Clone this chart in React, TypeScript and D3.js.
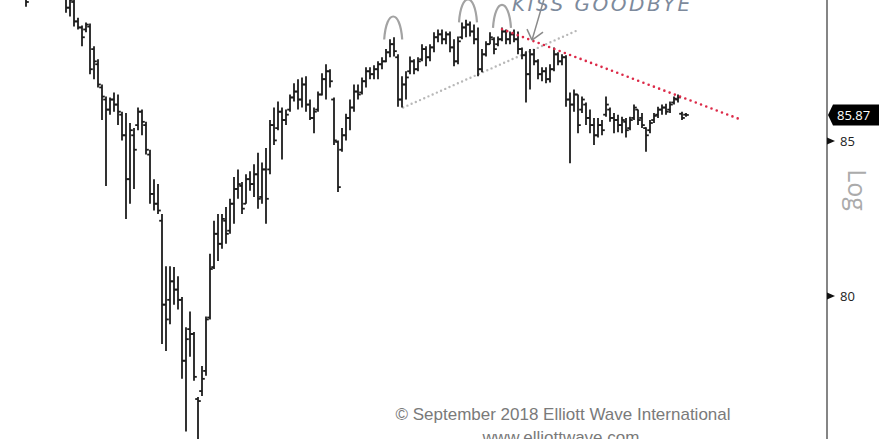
import React from 'react';
import * as d3 from 'd3';

const W = 881;
const H = 439;

const highs = [
  91.24, 91.42, 91.06, 90.88, 91.17, 90.88, 90.53, 90.88, 91.24, 91.42,
  91.24, 91.06, 91.17, 90.88, 90.71, 90.53, 90.25, 90.00, 89.82, 89.20,
  88.93, 89.03, 89.00, 88.21, 87.76, 86.90, 86.49, 86.46, 86.63, 86.56,
  85.98, 85.94, 85.60, 85.43, 86.12, 86.05, 85.64, 84.71, 83.74, 83.58,
  82.61, 80.94, 80.94, 80.91, 80.62, 79.97, 79.03, 79.52, 78.88, 76.90,
  77.84, 79.36, 81.33, 82.39, 82.61, 82.61, 82.83, 83.10, 83.81, 84.06,
  83.65, 83.90, 84.00, 84.23, 84.61, 84.29, 84.77, 85.70, 86.12, 86.32,
  86.12, 86.05, 86.56, 86.94, 87.08, 87.14, 87.18, 86.39, 86.12, 86.66,
  87.28, 87.59, 87.42, 86.46, 85.02, 85.43, 85.91, 86.39, 86.90, 86.90,
  87.14, 87.49, 87.49, 87.56, 87.69, 87.83, 88.11, 88.45, 88.52, 87.93,
  87.18, 87.35, 87.86, 87.76, 87.83, 88.28, 88.21, 88.28, 88.69, 88.79,
  88.79, 88.72, 88.72, 88.45, 88.55, 89.03, 89.13, 89.07, 88.96, 88.86,
  88.11, 88.38, 88.69, 88.52, 88.55, 88.86, 88.79, 88.72, 88.79, 88.72,
  88.17, 88.04, 88.11, 88.11, 87.76, 87.49, 87.49, 87.59, 88.17, 88.00,
  87.93, 87.90, 86.63, 86.73, 86.56, 86.49, 86.29, 86.05, 85.77, 85.77,
  85.70, 86.49, 86.12, 85.94, 85.88, 85.81, 85.77, 85.81, 86.22, 86.05,
  85.94, 85.46, 85.70, 85.94, 86.15, 86.22, 86.25, 86.32, 86.49, 86.56,
  85.98, 85.94,
];

const lows = [
  90.17, 90.35, 90.10, 90.00, 90.17, 89.93, 89.58, 90.00, 90.35, 90.53,
  90.25, 90.17, 90.10, 90.00, 89.93, 89.89, 89.37, 89.24, 88.89, 88.79,
  88.21, 88.69, 87.25, 87.08, 86.80, 85.70, 83.52, 85.88, 85.98, 85.53,
  85.02, 82.45, 82.94, 83.42, 85.36, 85.19, 84.55, 82.94, 82.72, 82.61,
  78.51, 78.30, 79.12, 79.73, 79.58, 77.45, 75.87, 78.12, 77.39, 75.17,
  76.93, 77.54, 79.27, 80.85, 81.10, 81.49, 81.65, 81.97, 82.29, 83.10,
  82.61, 82.94, 83.36, 83.16, 82.78, 82.94, 82.29, 83.90, 84.87, 85.36,
  84.39, 85.53, 85.98, 86.32, 86.05, 86.12, 85.98, 85.70, 85.26, 85.98,
  86.53, 86.39, 86.80, 84.87, 83.32, 84.64, 85.02, 85.36, 85.98, 86.39,
  86.56, 86.80, 87.08, 87.08, 87.08, 87.42, 87.66, 87.83, 87.86, 86.15,
  86.12, 86.39, 87.25, 87.25, 87.35, 87.69, 87.52, 87.69, 88.00, 88.35,
  88.28, 88.28, 88.00, 87.52, 87.59, 88.45, 88.52, 88.55, 88.28, 87.18,
  87.32, 87.86, 88.28, 87.93, 88.21, 88.38, 88.28, 88.28, 88.35, 87.93,
  87.76, 86.29, 86.73, 87.56, 87.08, 87.01, 86.94, 86.97, 87.35, 87.56,
  87.56, 86.15, 84.26, 85.98, 85.26, 85.94, 85.53, 85.26, 84.87, 85.12,
  85.19, 85.81, 85.64, 85.26, 85.29, 85.26, 85.12, 85.36, 85.70, 85.53,
  85.43, 84.64, 85.26, 85.60, 85.77, 85.88, 85.88, 85.94, 86.22, 86.29,
  85.70, 85.81,
];

const opens = [
  90.88, 90.53, 90.88, 90.25, 90.71, 90.35, 90.00, 90.10, 90.71, 91.06,
  90.71, 90.88, 90.35, 90.81, 90.17, 90.46, 90.00, 89.55, 89.75, 89.07,
  88.86, 88.79, 88.89, 88.11, 87.59, 86.80, 86.39, 86.05, 86.39, 86.22,
  85.88, 85.19, 83.74, 85.19, 85.53, 85.98, 85.53, 84.55, 83.26, 82.94,
  82.39, 79.73, 79.88, 80.46, 80.20, 79.88, 78.00, 78.97, 78.82, 76.84,
  77.08, 77.69, 79.33, 80.91, 81.97, 81.65, 82.39, 82.07, 82.94, 83.42,
  83.52, 82.94, 83.74, 83.58, 83.90, 83.16, 84.06, 84.06, 85.53, 85.43,
  85.98, 85.70, 86.05, 86.46, 86.66, 86.39, 86.90, 86.22, 85.77, 86.05,
  86.56, 87.08, 87.35, 86.39, 84.97, 84.71, 85.19, 85.77, 86.12, 86.66,
  86.63, 87.01, 87.35, 87.25, 87.42, 87.59, 87.69, 88.00, 88.28, 87.83,
  86.39, 86.90, 87.35, 87.69, 87.42, 87.76, 88.11, 87.83, 88.17, 88.52,
  88.62, 88.45, 88.62, 88.17, 87.69, 88.52, 88.86, 88.96, 88.72, 88.45,
  87.42, 87.93, 88.28, 88.45, 88.28, 88.45, 88.72, 88.45, 88.62, 88.45,
  88.11, 87.90, 87.25, 87.93, 87.69, 87.25, 87.35, 87.08, 87.42, 87.93,
  87.69, 87.83, 86.39, 86.22, 86.56, 86.05, 86.22, 85.77, 85.53, 85.19,
  85.53, 85.88, 86.05, 85.77, 85.70, 85.53, 85.64, 85.43, 85.77, 86.05,
  85.77, 85.43, 85.36, 85.70, 85.88, 86.05, 86.12, 86.05, 86.29, 86.39,
  85.91, 85.88,
];

const closes = [
  90.35, 91.06, 90.25, 90.71, 90.35, 90.00, 89.75, 90.71, 91.06, 90.71,
  90.88, 90.35, 90.88, 90.17, 90.53, 90.00, 89.55, 89.82, 89.07, 88.86,
  88.52, 88.96, 87.42, 87.69, 86.90, 86.49, 86.05, 86.39, 86.22, 85.98,
  85.19, 83.74, 85.36, 84.71, 85.98, 85.64, 84.71, 83.26, 82.94, 82.72,
  79.73, 79.27, 80.46, 80.20, 79.88, 78.00, 78.66, 78.82, 77.51, 76.78,
  77.45, 79.27, 80.85, 81.97, 81.65, 82.45, 81.97, 82.94, 83.42, 83.58,
  82.78, 83.74, 83.58, 83.90, 83.10, 84.06, 83.10, 85.53, 85.02, 85.98,
  85.70, 85.88, 86.46, 86.66, 86.39, 86.90, 86.22, 85.77, 85.98, 86.56,
  87.08, 87.35, 87.01, 85.02, 83.48, 85.19, 85.77, 86.12, 86.66, 86.56,
  87.01, 87.35, 87.25, 87.42, 87.59, 87.69, 88.00, 88.28, 88.04, 86.39,
  86.90, 87.14, 87.69, 87.42, 87.69, 88.11, 87.83, 88.17, 88.52, 88.62,
  88.45, 88.62, 88.17, 87.69, 88.38, 88.86, 88.96, 88.72, 88.45, 87.42,
  87.93, 88.28, 88.52, 88.11, 88.45, 88.72, 88.45, 88.62, 88.45, 88.11,
  87.90, 87.25, 87.93, 87.69, 87.25, 87.35, 87.08, 87.42, 87.93, 87.69,
  87.83, 86.39, 86.22, 86.56, 85.53, 86.39, 85.77, 85.53, 85.19, 85.53,
  85.36, 86.22, 85.77, 85.70, 85.53, 85.70, 85.36, 85.70, 86.12, 85.70,
  85.53, 85.19, 85.60, 85.84, 86.05, 86.12, 85.98, 86.22, 86.42, 86.46,
  85.77, 85.87,
];

const priceTicks = [80, 85, 90];
const lastPrice = 85.87;

// trendlines: [bar index, price]
const supportLine: [number, number][] = [[100.3, 86.12], [144, 88.77]];
const resistanceLine: [number, number][] = [[125, 88.8], [185, 85.7]];
// arch (top) marks: [bar index, price at top of arch]
const arches: [number, number][] = [[97.8, 89.24], [116.5, 89.84], [125, 89.65]];
// arrow tip for "KISS GOODBYE"
const arrowTip: [number, number] = [132.5, 88.42];

export default function App() {
  const n = highs.length;
  const x = d3.scaleLinear().domain([0, n - 1]).range([2, 686]);
  const y = d3.scaleLog().domain([80, 85]).range([296, 141]);
  const axisX = 827;
  const line = d3
    .line<[number, number]>()
    .x((d) => x(d[0]))
    .y((d) => y(d[1]));

  const tickLen = 2.8;
  const bars = highs.map((h, i) => {
    const cx = x(i);
    return (
      <g key={i}>
        <line x1={cx} x2={cx} y1={y(h)} y2={y(lows[i])} />
        <line x1={cx - tickLen} x2={cx} y1={y(opens[i])} y2={y(opens[i])} />
        <line x1={cx} x2={cx + tickLen} y1={y(closes[i])} y2={y(closes[i])} />
      </g>
    );
  });

  const archPath = (d: [number, number]) => {
    const cx = x(d[0]);
    const top = y(d[1]);
    const b = top + 23;
    const c = top - 7.7;
    return `M${cx - 9},${b} C${cx - 7},${c} ${cx + 7},${c} ${cx + 9},${b}`;
  };

  const tipX = x(arrowTip[0]);
  const tipY = y(arrowTip[1]);
  const lastY = y(lastPrice);

  return (
    <svg
      width={W}
      height={H}
      style={{ position: 'absolute', left: 0, top: 0, background: '#fff', display: 'block' }}
    >
      <rect x={0} y={0} width={W} height={H} fill="#fff" />
      {/* support dotted line */}
      <path
        d={line(supportLine) || ''}
        fill="none"
        stroke="#b8b8b8"
        strokeWidth={2.4}
        strokeDasharray="0 4.6"
        strokeLinecap="round"
      />
      {/* arches */}
      {arches.map((a, i) => (
        <path key={i} d={archPath(a)} fill="none" stroke="#a3a3a3" strokeWidth={2.2} />
      ))}
      {/* bars */}
      <g stroke="#1c1c1c" strokeWidth={1.8}>
        {bars}
      </g>
      {/* resistance dotted line */}
      <path
        d={line(resistanceLine) || ''}
        fill="none"
        stroke="#dc2a48"
        strokeWidth={2.6}
        strokeDasharray="0 5.6"
        strokeLinecap="round"
      />
      {/* arrow */}
      <g stroke="#8a8a8a" strokeWidth={1.5} fill="none">
        <line x1={tipX + 12} y1={tipY - 41} x2={tipX} y2={tipY} />
        <line x1={tipX - 5} y1={tipY - 11} x2={tipX} y2={tipY} />
        <line x1={tipX + 11} y1={tipY - 8} x2={tipX} y2={tipY} />
      </g>
      <text
        x={512}
        y={11}
        fontFamily="DejaVu Sans"
        fontStyle="italic"
        fontSize={20}
        letterSpacing={2.5}
        fill="#7d8a9c"
      >
        KISS GOODBYE
      </text>

      {/* axis */}
      <line x1={axisX} x2={axisX} y1={0} y2={H} stroke="#858585" strokeWidth={2} />
      {priceTicks.map((t) => (
        <g key={t} transform={`translate(${axisX},${y(t)})`}>
          <path d="M0,-3.5 L8,0 L0,3.5 Z" fill="#111" />
          <text x={13} y={0} dy="0.35em" fontFamily="Open Sans" fontSize={13} fill="#222">
            {t}
          </text>
        </g>
      ))}
      <g transform={`translate(${axisX + 1},${lastY})`}>
        <path d="M0,0 L5,-10.5 L51,-10.5 L51,10.5 L5,10.5 Z" fill="#000" />
        <text x={9} y={0} dy="0.36em" fontFamily="Open Sans" fontSize={13} fill="#fff">
          {lastPrice.toFixed(2)}
        </text>
      </g>
      <text
        transform="translate(848,190) rotate(90)"
        textAnchor="middle"
        fontFamily="Open Sans"
        fontSize={25}
        fill="#ababab"
      >
        Log
      </text>

      <text
        x={563}
        y={420}
        textAnchor="middle"
        fontFamily="Liberation Sans"
        fontSize={17}
        fill="#7a7a7a"
      >
        © September 2018 Elliott Wave International
      </text>
      <text
        x={561}
        y={443}
        textAnchor="middle"
        fontFamily="Liberation Sans"
        fontSize={17}
        fill="#7a7a7a"
      >
        www.elliottwave.com
      </text>
    </svg>
  );
}
